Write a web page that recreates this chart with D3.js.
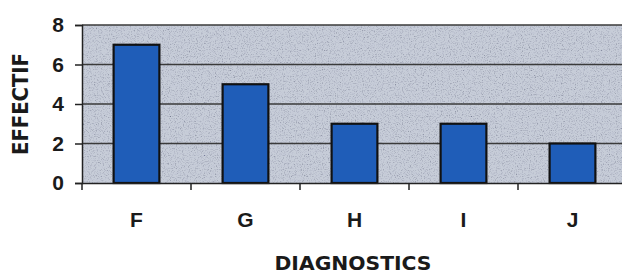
<!DOCTYPE html>
<html><head><meta charset="utf-8">
<script src="https://cdn.jsdelivr.net/npm/d3@7"></script>
<style>body{margin:0;background:#fff;}svg{display:block;}</style>
</head><body>
<script>
const categories = ["F","G","H","I","J"];
const values = [7,5,3,3,2];
const yTicks = [0,2,4,6,8];

const W = 622, H = 276;
const m = {left:82, top:25, right:-5, bottom:93};
const svg = d3.select("body").append("svg").attr("width",W).attr("height",H);

const defs = svg.append("defs");
const f = defs.append("filter").attr("id","noise").attr("x",0).attr("y",0).attr("width","100%").attr("height","100%");
f.append("feTurbulence").attr("type","fractalNoise").attr("baseFrequency",0.85).attr("numOctaves",2).attr("seed",5).attr("result","n");
f.append("feColorMatrix").attr("in","n").attr("type","matrix")
 .attr("values","2.4 0 0 0 -0.27  2.4 0 0 0 -0.27  2.4 0 0 0 -0.22  0 0 0 0 0.32").attr("result","g");
f.append("feComposite").attr("in","g").attr("in2","SourceGraphic").attr("operator","in");

const x = d3.scaleBand().domain(categories).range([m.left, W - m.right]).paddingInner(0.58).paddingOuter(0.29);
const y = d3.scaleLinear().domain([0,8]).range([H - m.bottom, m.top]);

// background
const pw = W - m.left, ph = y(0) - m.top;
svg.append("rect").attr("x",m.left).attr("y",m.top).attr("width",pw).attr("height",ph).attr("fill","#adb5c6");
svg.append("rect").attr("x",m.left).attr("y",m.top).attr("width",pw).attr("height",ph)
  .attr("fill","#fff").attr("filter","url(#noise)");

// gridlines
svg.append("g").selectAll("line").data(yTicks.filter(d=>d>0)).join("line")
  .attr("x1",m.left).attr("x2",W).attr("y1",d=>y(d)).attr("y2",d=>y(d))
  .attr("stroke","#3a3a3a").attr("stroke-width",1.5);

// bars
svg.append("g").selectAll("rect").data(values).join("rect")
  .attr("x",(d,i)=>x(categories[i])).attr("width",x.bandwidth())
  .attr("y",d=>y(d)).attr("height",d=>y(0)-y(d))
  .attr("fill","#1f5db8").attr("stroke","#111").attr("stroke-width",2.2);

// y axis
const ya = svg.append("g").attr("transform",`translate(${m.left},0)`)
  .call(d3.axisLeft(y).tickValues(yTicks).tickSize(7).tickPadding(11));
ya.select(".domain").attr("stroke","#222").attr("stroke-width",1.5);
ya.selectAll(".tick line").attr("stroke","#222").attr("stroke-width",1.5);
ya.selectAll(".tick text").attr("font-family","Liberation Sans, Arial, sans-serif").attr("font-size",21)
  .attr("font-weight","bold").attr("fill","#1a1a1a");

// x axis
const xa = svg.append("g").attr("transform",`translate(0,${y(0)})`)
  .call(d3.axisBottom(x).tickSize(0).tickPadding(29));
xa.select(".domain").attr("stroke","#222").attr("stroke-width",1.5);
xa.selectAll(".tick text").attr("font-family","Liberation Sans, Arial, sans-serif").attr("font-size",21)
  .attr("font-weight","bold").attr("fill","#1a1a1a");
// boundary ticks
const bounds = categories.map(c=>x(c) - x.step()*x.paddingInner()/2);
svg.append("g").selectAll("line").data(bounds.slice(1).concat([m.left])).join("line")
  .attr("x1",d=>d).attr("x2",d=>d).attr("y1",y(0)).attr("y2",y(0)+7)
  .attr("stroke","#222").attr("stroke-width",1.5);

// titles
svg.append("text").attr("transform",`translate(28,104) rotate(-90)`)
  .attr("text-anchor","middle").attr("font-family","DejaVu Sans, sans-serif").attr("font-weight","bold")
  .attr("font-size",21).attr("textLength",102).attr("lengthAdjust","spacingAndGlyphs")
  .attr("fill","#1a1a1a").text("EFFECTIF");
svg.append("text").attr("x",353).attr("y",270).attr("text-anchor","middle")
  .attr("font-family","DejaVu Sans, sans-serif").attr("font-weight","bold")
  .attr("font-size",20).attr("textLength",157).attr("lengthAdjust","spacingAndGlyphs")
  .attr("fill","#1a1a1a").text("DIAGNOSTICS");
</script>
</body></html>
